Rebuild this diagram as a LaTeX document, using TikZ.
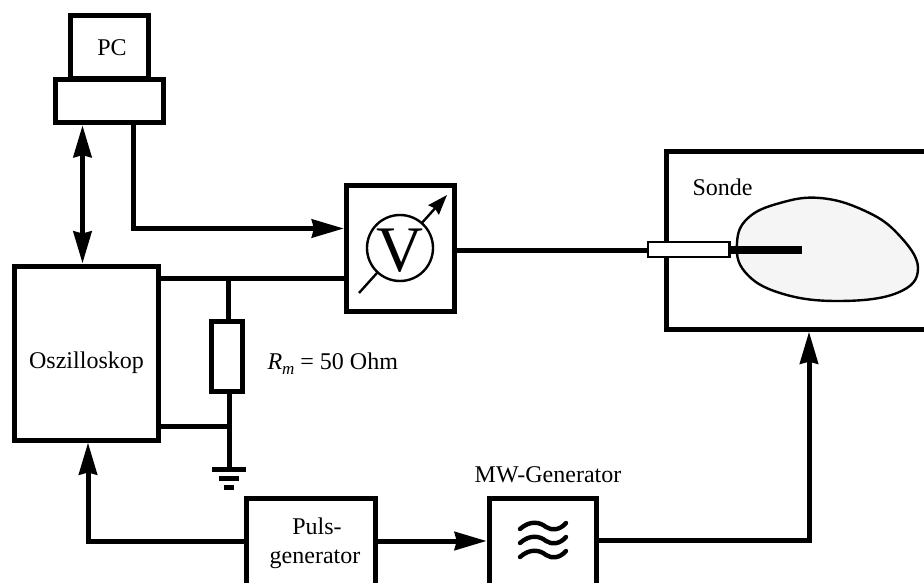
\documentclass[tikz,border=0pt]{standalone}
\usepackage{fontspec}
\setmainfont{Liberation Serif}
\usetikzlibrary{arrows.meta,calc}

\begin{document}
\begin{tikzpicture}[x=1pt,y=-1pt]
    \tikzstyle{every node}=[rectangle,draw,line width=5,inner sep=0,fill=white,font=\fontsize{24}{28}\selectfont]
    \tikzstyle{note}=[draw=none,fill=none,anchor=base]
    \tikzstyle{wire}=[line width=5]
    \tikzstyle{thin wire}=[line width=2.4]
    \tikzstyle{big arrow}=[wire,>={Stealth[length=32,width=18,inset=2]}]
    \useasboundingbox (0,0) rectangle (924,583);

    % helper points for the wires
    \coordinate (linkx) at (82.5,0);
    \coordinate (ctrlx) at (133,0);
    \coordinate (ctrly) at (0,228.5);
    \coordinate (sigy) at (0,278.5);
    \coordinate (retury) at (0,426);
    \coordinate (tap) at (228,278.5);
    \coordinate (gnd) at (229,469);
    \coordinate (trigx) at (88,0);
    \coordinate (feedx) at (809,0);
    \coordinate (meterin) at (359,293);
    \coordinate (meterout) at (447,195);

    % boxes
    \node[minimum width=78,minimum height=63] (pc) at (109.5,47) {};
    \node[minimum width=107.4,minimum height=43.3] (pcbase) at (109.5,101) {};
    \node[minimum width=144.6,minimum height=174] (osci) at (86.5,353) {};
    \node[minimum width=107.7,minimum height=126.3] (vbox) at (400.3,248.3) {};
    \node[minimum width=31,minimum height=70] (rm) at (227.3,356.8) {};
    \node[minimum width=295,minimum height=177.7] (sonde) at (814.3,240.3) {};
    \node[minimum width=129.3,minimum height=115] (puls) at (311.1,556) {};
    \node[minimum width=107.3,minimum height=115] (mw) at (542.9,556) {};

    % wires
    \draw[big arrow,<->] (linkx |- pcbase.south) -- (linkx |- osci.north);
    \draw[big arrow,->] (ctrlx |- pcbase.south) |- (vbox.west |- ctrly);
    \draw[wire] (osci.east |- sigy) -- (vbox.west |- sigy);
    \draw[wire] (tap) -- (tap |- rm.north);
    \draw[wire] (gnd |- rm.south) -- (gnd);
    \draw[wire] (osci.east |- retury) -- (gnd |- retury);
    \draw[big arrow,->] (puls.west |- 0,541) -| (trigx |- osci.south);
    \draw[big arrow,->] (puls.east |- 0,541) -- (mw.west |- 0,541);
    \draw[big arrow,->] (mw.east |- 0,540) -| (feedx |- sonde.south);
    \draw[wire] (vbox.east |- 0,250.5) -- (655,250.5);

    % ground
    \foreach \yy/\half in {469/17,478/10,487/5.3} {
        \draw[wire] ($(gnd |- 0,\yy)+(-\half,0)$) -- ($(gnd |- 0,\yy)+(\half,0)$);
    }

    % meter
    \draw[thin wire,-{Stealth[length=20,width=14,inset=2]}] (meterin) -- (meterout);
    \node[circle,line width=2.4,minimum size=66] (meter) at (400,248) {};
    \node[note,font=\fontsize{65}{65}\selectfont] (vlabel) at (400,271) {V};

    % sample and probe
    \path[draw,line width=2.4,fill=black!4] plot[smooth cycle,tension=0.7] coordinates {
        (737,243) (748,218) (780,203) (820,198) (863,210) (897,233) (918,268)
        (897,293) (837,301) (780,293) (745,272)};
    \node[minimum width=81.6,minimum height=14.9,line width=2.4] (plug) at (688.7,249.3) {};
    \draw[line width=8] (plug.east |- 0,250) -- (801.7,250);

    % MW symbol
    \foreach \yy in {527,541,555} {
        \draw[line width=4.4,line cap=round] (520,\yy+2) .. controls (530,\yy-7) and (540,\yy-5) .. (546,\yy)
            .. controls (552,\yy+4) and (560,\yy+3) .. (566,\yy-4);
    }

    % labels
    \node[note] (pclabel) at (112,56) {PC};
    \node[note] (oscilabel) at (86.5,368) {Oszilloskop};
    \node[note] (sondelabel) at (722.5,195) {Sonde};
    \node[note,anchor=base west] (rmlabel) at (265,369.5) {\textit{R}\raisebox{-5pt}{\fontsize{17}{17}\selectfont\textit{m}} = 50 Ohm};
    \node[note] (pulslabela) at (317,534) {Puls-};
    \node[note] (pulslabelb) at (315,563) {generator};
    \node[note] (mwlabel) at (548,482) {MW-Generator};
\end{tikzpicture}
\end{document}
